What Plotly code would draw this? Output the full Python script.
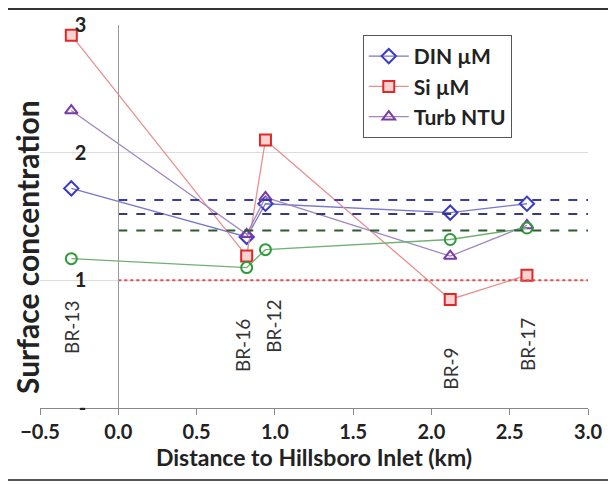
import plotly.graph_objects as go

# station distances to Hillsboro Inlet (km)
STATIONS = ["BR-13", "BR-16", "BR-12", "BR-9", "BR-17"]
DIST = [-0.30, 0.82, 0.94, 2.12, 2.61]

# relative surface concentrations
DIN = [1.72, 1.34, 1.60, 1.53, 1.60]
SI = [2.92, 1.19, 2.10, 0.85, 1.04]
TURB = [2.33, 1.36, 1.65, 1.19, 1.43]
OTHER = [1.17, 1.10, 1.24, 1.32, 1.41]

# reference levels (dashed / dotted)
REF_X = [0.0, 3.0]
REF_DIN = 1.63
REF_TURB = 1.52
REF_OTHER = 1.39
REF_ONE = 1.0

# station label heights (y) for the rotated text
LABEL_Y = [0.63, 0.49, 0.64, 0.31, 0.50]
LABEL_SHIFT = [0, -4, 8, 0, 0]

FONT = "Lato"

fig = go.Figure()

series = [
    ("DIN µM", DIN, "diamond-open", "#3a3ac8", "#7777cc", None, True),
    ("Si µM", SI, "square", "#e02828", "#e89090", "#f9d2d2", True),
    ("Turb NTU", TURB, "triangle-up-open", "#7a3aa8", "#a088c0", None, True),
    ("other", OTHER, "circle-open", "#2e9a3a", "#70b070", None, False),
]
for name, vals, sym, mcol, lcol, fill, show in series:
    fig.add_trace(go.Scatter(
        x=DIST, y=vals, name=name, mode="lines+markers", showlegend=show,
        line=dict(color=lcol, width=1.3),
        marker=dict(symbol=sym, size=11, color=fill or mcol, line=dict(color=mcol, width=2))))

refs = [
    (REF_DIN, "#3c3ca8", "dash"),
    (REF_TURB, "#3a3a78", "dash"),
    (REF_OTHER, "#2e5a2e", "dash"),
    (REF_ONE, "#e05050", "dot"),
]
for level, col, dash in refs:
    fig.add_trace(go.Scatter(x=REF_X, y=[level, level], mode="lines", showlegend=False,
                             line=dict(color=col, width=2, dash=dash), hoverinfo="skip"))

for st, d, ly, sh in zip(STATIONS, DIST, LABEL_Y, LABEL_SHIFT):
    fig.add_annotation(x=d, y=ly, text=st, textangle=-90, showarrow=False, xshift=sh,
                       font=dict(family=FONT, size=19, color="#333"))

fig.add_annotation(text="Surface concentration", xref="paper", yref="paper",
                   x=-0.024, y=0.42, xanchor="center", yanchor="middle", textangle=-90,
                   showarrow=False, font=dict(family=FONT, size=30, color="#222", weight="bold"))

# frame lines of the original screenshot
fig.add_shape(type="line", xref="paper", yref="paper", x0=-0.08, x1=1.06, y0=1.042, y1=1.042,
              line=dict(color="#333", width=2))
fig.add_shape(type="line", xref="paper", yref="paper", x0=-0.08, x1=1.06, y0=-0.188, y1=-0.188,
              line=dict(color="#555", width=2))
fig.add_shape(type="line", xref="paper", yref="paper", x0=1.044, x1=1.044, y0=-0.188, y1=1.042,
              line=dict(color="#d8d8d8", width=1))

fig.update_layout(
    width=616, height=484, plot_bgcolor="white", paper_bgcolor="white",
    margin=dict(l=32, r=36, t=17, b=84),
    font=dict(family=FONT, color="#222"),
    xaxis=dict(range=[-0.5, 3.0], dtick=0.5, tickformat=".1f", showgrid=False, zeroline=False,
               showline=True, linecolor="#888", ticks="outside", ticklen=6, tickcolor="#888",
               automargin=False, tickfont=dict(size=20, weight="bold"),
               title=dict(text="Distance to Hillsboro Inlet (km)", standoff=2,
                          font=dict(size=23, weight="bold"))),
    yaxis=dict(range=[0, 3], tickvals=[0, 1, 2, 3], ticktext=["-", "1", "2", "3"],
               anchor="free", position=0.5 / 3.5, showgrid=True, gridcolor="#dcdcdc",
               zeroline=False, showline=True, linecolor="#999", ticks="", ticklabelstandoff=28,
               automargin=False, tickfont=dict(size=20, weight="bold")),
    legend=dict(x=0.589, y=0.974, xanchor="left", yanchor="top", bgcolor="white",
                bordercolor="#555", borderwidth=1, font=dict(size=21, weight="bold"),
                itemwidth=40, tracegroupgap=0),
)

fig.write_html("out.html")
